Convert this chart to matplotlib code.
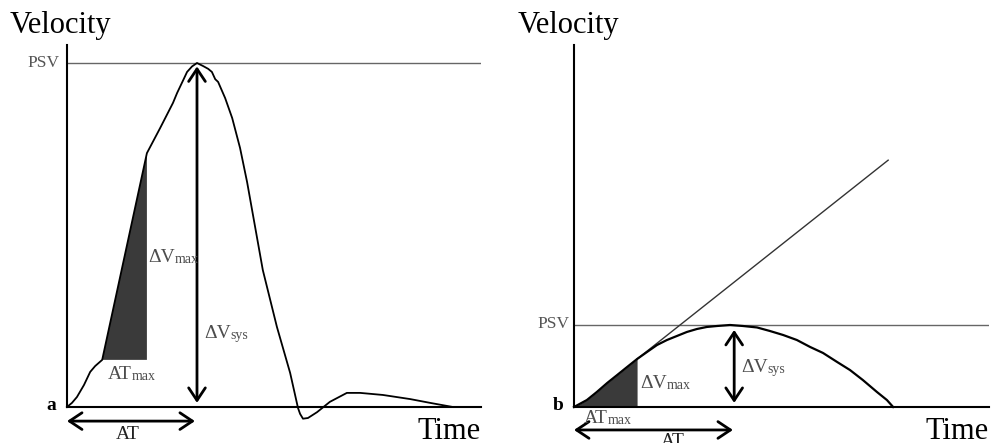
import matplotlib
matplotlib.use("Agg")
import matplotlib.pyplot as plt

plt.rcParams['font.family'] = ['Liberation Serif', 'DejaVu Serif']

W, H = 992, 443

# panel a: measured Doppler waveform (time, velocity normalised to PSV = 1)
a_time = [0.000, 0.012, 0.024, 0.041, 0.056, 0.068, 0.085, 0.193, 0.225, 0.256,
          0.266, 0.283, 0.290, 0.302, 0.314, 0.329, 0.341, 0.350, 0.358, 0.365,
          0.382, 0.399, 0.418, 0.435, 0.473, 0.507, 0.539, 0.558, 0.563, 0.570,
          0.582, 0.604, 0.635, 0.676, 0.708, 0.763, 0.829, 0.877, 0.932]
a_vel = [0.000, 0.012, 0.029, 0.064, 0.102, 0.119, 0.137, 0.738, 0.811, 0.884,
         0.913, 0.956, 0.974, 0.990, 1.000, 0.991, 0.983, 0.974, 0.953, 0.945,
         0.898, 0.840, 0.753, 0.654, 0.398, 0.233, 0.099, -0.003, -0.020, -0.034,
         -0.032, -0.015, 0.015, 0.041, 0.041, 0.035, 0.023, 0.012, 0.000]
a_atmax = (0.085, 0.137)      # start of steepest rise
a_vmax = (0.193, 0.738)       # end of steepest rise
a_peak_t = 0.314
a_at = 0.309

# panel b: damped (parvus-tardus) waveform
b_time = [0.000, 0.031, 0.055, 0.080, 0.104, 0.128, 0.152, 0.176, 0.200, 0.224,
          0.248, 0.272, 0.296, 0.320, 0.345, 0.376, 0.407, 0.441, 0.472, 0.504,
          0.537, 0.569, 0.600, 0.634, 0.665, 0.696, 0.730, 0.754, 0.769]
b_vel = [0.000, 0.085, 0.183, 0.293, 0.390, 0.488, 0.585, 0.671, 0.756, 0.817,
         0.866, 0.915, 0.951, 0.976, 0.988, 1.000, 0.988, 0.970, 0.927, 0.878,
         0.817, 0.732, 0.659, 0.549, 0.451, 0.329, 0.183, 0.085, 0.000]
b_atmax_t = 0.152
b_line_t = [0.152, 0.757]
b_line_v = [0.585, 3.010]
b_peak_t = 0.386
b_at = 0.383

fig = plt.figure(figsize=(W / 100, H / 100), dpi=100)


def fx(px):
    return px / W


def fy(py):
    return 1 - py / H


def setup(ax, ymax):
    ax.set_xlim(0, 1)
    ax.set_ylim(0, ymax)
    for s in ['top', 'right']:
        ax.spines[s].set_visible(False)
    for s in ['left', 'bottom']:
        ax.spines[s].set_linewidth(1.5)
        ax.spines[s].set_color('black')
    ax.set_xticks([])
    ax.set_yticks([])
    ax.patch.set_alpha(0)
    ax.axhline(1.0, color='#666666', lw=1.0, zorder=1)


def dbl_arrow(ax, p0, p1):
    ax.annotate('', xy=p1, xytext=p0, annotation_clip=False,
                arrowprops=dict(arrowstyle='<->,head_length=0.45,head_width=0.3',
                                lw=2, color='black', shrinkA=0, shrinkB=0,
                                mutation_scale=20))


def label(x, y, main, sub, size=14, subsize=10, color='#4d4d4d'):
    t = fig.text(fx(x), fy(y), main, fontsize=size, color=color, va='baseline')
    return plt.annotate(sub, xy=(1, 0), xycoords=t, fontsize=subsize, color=color,
                        va='bottom', ha='left', annotation_clip=False)


ax1 = fig.add_axes([fx(67), 1 - 407 / H, 414 / W, 362 / H])
setup(ax1, 362 / 344)
ax1.plot(a_time, a_vel, color='black', lw=1.3, clip_on=False, zorder=3)
ax1.fill([a_atmax[0], a_vmax[0], a_vmax[0]], [a_atmax[1], a_vmax[1], a_atmax[1]],
         color='#3a3a3a', lw=0, zorder=2)
dbl_arrow(ax1, (a_peak_t, 0.012), (a_peak_t, 0.99))
dbl_arrow(ax1, (0.0, -0.041), (a_at, -0.041))

ax2 = fig.add_axes([fx(574), 1 - 407 / H, 415 / W, 362 / H])
setup(ax2, 362 / 82)
ax2.plot(b_time, b_vel, color='black', lw=1.6, clip_on=False, zorder=3)
n = b_time.index(b_atmax_t) + 1
ax2.fill_between(b_time[:n], b_vel[:n], 0, color='#3a3a3a', lw=0, zorder=2)
ax2.plot(b_line_t, b_line_v, color='#333333', lw=1.0, zorder=2)
dbl_arrow(ax2, (b_peak_t, 0.05), (b_peak_t, 0.94))
dbl_arrow(ax2, (0.0, -0.28), (b_at, -0.28))

# texts
for x0 in [10, 518]:
    fig.text(fx(x0), fy(33), 'Velocity', fontsize=22, color='black', va='baseline')
for x1 in [481, 989]:
    fig.text(fx(x1), fy(439), 'Time', fontsize=22, color='black', va='baseline', ha='right')
fig.text(fx(59), fy(63), 'PSV', fontsize=12.5, color='#555555', va='center', ha='right')
fig.text(fx(569), fy(324), 'PSV', fontsize=12.5, color='#555555', va='center', ha='right')
fig.text(fx(56), fy(410), 'a', fontsize=14, weight='bold', va='baseline', ha='right')
fig.text(fx(564), fy(410), 'b', fontsize=14, weight='bold', va='baseline', ha='right')

label(148, 262, '\u0394V', 'max')
label(204, 338, '\u0394V', 'sys')
label(108, 379, 'AT', 'max')
fig.text(fx(128), fy(439), 'AT', fontsize=14, color='#222222', va='baseline', ha='center')

label(640, 388, '\u0394V', 'max')
label(741, 372, '\u0394V', 'sys')
label(584, 423, 'AT', 'max')
fig.text(fx(673), fy(446), 'AT', fontsize=14, color='#222222', va='baseline', ha='center')

fig.savefig('out.png', dpi=100)
